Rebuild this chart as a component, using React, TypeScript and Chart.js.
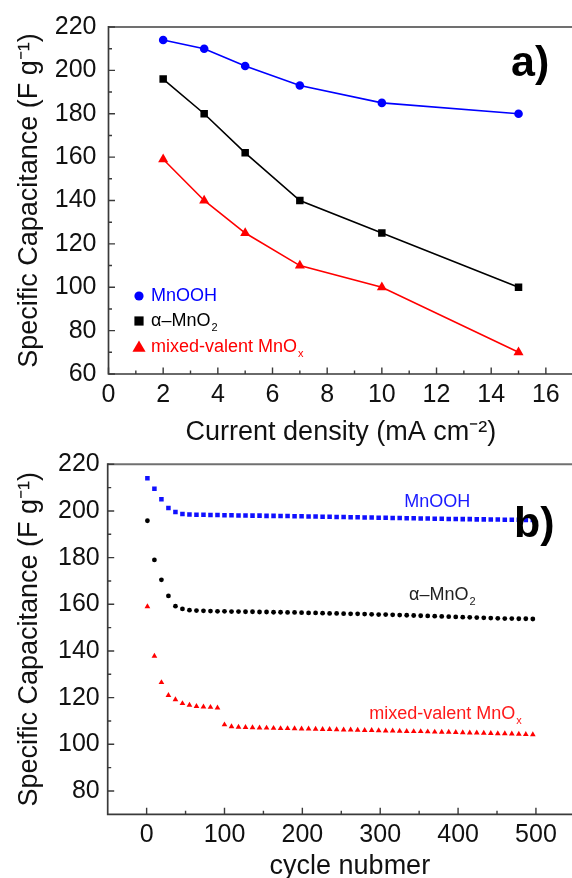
import { useEffect, useRef } from 'react';
import { Chart, registerables } from 'chart.js';

Chart.register(...registerables);

const FONT = "'Liberation Sans', Arial, Helvetica, sans-serif";

// ---------- Panel a) ----------
const currentDensity = [2, 3.5, 5, 7, 10, 15];
const capMnOOH = [214, 210, 202, 193, 185, 180];
const capAlphaMnO2 = [196, 180, 162, 140, 125, 100];
const capMixedMnOx = [159, 140, 125, 110, 100, 70];
const xTicksA = [0, 2, 4, 6, 8, 10, 12, 14, 16];
const xMinorA = [1, 3, 5, 7, 9, 11, 13, 15];
const yTicksA = [60, 80, 100, 120, 140, 160, 180, 200, 220];
const yMinorA = [70, 90, 110, 130, 150, 170, 190, 210];

// ---------- Panel b) ----------
const cycles = [1, 10, 19, 28, 37, 46, 55, 64, 73, 82, 91, 100, 109, 118, 127, 136, 145, 154, 163, 172, 181, 190, 199, 208, 217, 226, 235, 244, 253, 262, 271, 280, 289, 298, 307, 316, 325, 334, 343, 352, 361, 370, 379, 388, 397, 406, 415, 424, 433, 442, 451, 460, 469, 478, 487, 496];
const cycMnOOH = [214, 209.5, 205, 201.3, 199.6, 198.7, 198.5, 198.4, 198.4, 198.3, 198.3, 198.2,
  198.2, 198.1, 198.1, 198.0, 198.0, 197.9, 197.9, 197.8, 197.8, 197.7,
  197.7, 197.6, 197.6, 197.5, 197.5, 197.4, 197.4, 197.3, 197.3, 197.2,
  197.2, 197.1, 197.1, 197.0, 197.0, 196.9, 196.9, 196.8, 196.8, 196.7,
  196.7, 196.6, 196.6, 196.5, 196.5, 196.4, 196.4, 196.3, 196.3, 196.2,
  196.2, 196.2, 196.1, 196.1];
const cycAlphaMnO2 = [195.8, 179, 170.5, 163.6, 159.2, 158, 157.5, 157.3, 157.2, 157.1, 157.0, 157.0,
  156.9, 156.9, 156.8, 156.8, 156.7, 156.7, 156.6, 156.6, 156.5, 156.5,
  156.4, 156.3, 156.3, 156.2, 156.1, 156.1, 156.0, 155.9, 155.9, 155.8,
  155.7, 155.6, 155.6, 155.5, 155.4, 155.3, 155.2, 155.1, 155.0, 154.9,
  154.8, 154.7, 154.6, 154.5, 154.4, 154.3, 154.2, 154.1, 154.0, 153.9,
  153.9, 153.8, 153.8, 153.7];
const cycMixedMnOx = [159, 137.8, 126.5, 121, 119.2, 117.5, 116.8, 116.3, 116.1, 115.9, 115.6, 108.4,
  107.6, 107.4, 107.3, 107.2, 107.1, 107.0, 106.9, 106.8, 106.8, 106.7,
  106.6, 106.6, 106.5, 106.4, 106.4, 106.3, 106.2, 106.2, 106.1, 106.0,
  106.0, 105.9, 105.8, 105.8, 105.7, 105.6, 105.5, 105.5, 105.4, 105.3,
  105.2, 105.2, 105.1, 105.0, 104.9, 104.9, 104.8, 104.7, 104.6, 104.6,
  104.5, 104.4, 104.3, 104.2];
const xTicksB = [0, 100, 200, 300, 400, 500];
const xMinorB = [50, 150, 250, 350, 450];
const yTicksB = [80, 100, 120, 140, 160, 180, 200, 220];
const yMinorB = [90, 110, 130, 150, 170, 190, 210];

const seriesNames = ['MnOOH', 'α–MnO₂', 'mixed-valent MnOₓ'];
const seriesColors = ['#0000ff', '#000000', '#ff0000'];

const SUBS: Record<string, string> = { '₂': '2', 'ₓ': 'x' };

function drawRichLabel(ctx: CanvasRenderingContext2D, text: string, x: number, y: number, size: number, color: string) {
  let main = text;
  let sub = '';
  const last = text.charAt(text.length - 1);
  if (SUBS[last]) { main = text.slice(0, -1); sub = SUBS[last]; }
  ctx.save();
  ctx.fillStyle = color;
  ctx.textAlign = 'left';
  ctx.textBaseline = 'middle';
  ctx.font = `${size}px ${FONT}`;
  ctx.fillText(main, x, y);
  if (sub) {
    const w = ctx.measureText(main).width;
    ctx.font = `${Math.round(size * 0.62)}px ${FONT}`;
    ctx.fillText(sub, x + w + 1, y + size * 0.38);
  }
  ctx.restore();
}

function drawMarker(ctx: CanvasRenderingContext2D, style: string, x: number, y: number, r: number, color: string) {
  ctx.save();
  ctx.fillStyle = color;
  ctx.beginPath();
  if (style === 'circle') {
    ctx.arc(x, y, r, 0, Math.PI * 2);
  } else if (style === 'rect') {
    ctx.rect(x - r, y - r, 2 * r, 2 * r);
  } else {
    ctx.moveTo(x, y - r);
    ctx.lineTo(x + r * 0.866, y + r * 0.5);
    ctx.lineTo(x - r * 0.866, y + r * 0.5);
    ctx.closePath();
  }
  ctx.fill();
  ctx.restore();
}

function makeFrame(xMajor: number[], xMinor: number[], yMajor: number[], yMinor: number[]) {
  return {
    id: 'frame',
    afterDraw(chart: any) {
      const { ctx, chartArea: a, scales } = chart;
      const xs = scales.x;
      const ys = scales.y;
      ctx.save();
      ctx.strokeStyle = '#707070';
      ctx.lineWidth = 2;
      ctx.beginPath();
      ctx.moveTo(a.left, a.top);
      ctx.lineTo(chart.width, a.top);
      ctx.stroke();
      ctx.strokeStyle = '#3a3a3a';
      ctx.lineWidth = 1.7;
      ctx.beginPath();
      ctx.moveTo(a.left, a.top - 1);
      ctx.lineTo(a.left, a.bottom);
      ctx.lineTo(chart.width, a.bottom);
      ctx.stroke();
      ctx.lineWidth = 1.4;
      ctx.beginPath();
      const xt = (v: number, len: number) => {
        const px = xs.getPixelForValue(v);
        ctx.moveTo(px, a.bottom);
        ctx.lineTo(px, a.bottom - len);
      };
      const yt = (v: number, len: number) => {
        const py = ys.getPixelForValue(v);
        ctx.moveTo(a.left, py);
        ctx.lineTo(a.left + len, py);
      };
      xMajor.forEach((v) => xt(v, 6.5));
      xMinor.forEach((v) => xt(v, 3.5));
      yMajor.forEach((v) => yt(v, 6.5));
      yMinor.forEach((v) => yt(v, 3.5));
      ctx.stroke();
      ctx.restore();
    },
  };
}

const tickFont = { family: FONT, size: 25 };
const titleFont = { family: FONT, size: 27 };

export default function App() {
  const refA = useRef<HTMLCanvasElement>(null);
  const refB = useRef<HTMLCanvasElement>(null);

  useEffect(() => {
    document.body.style.margin = '0';
    Chart.defaults.font.family = FONT;

    const legendA = {
      id: 'legendA',
      afterDraw(chart: any) {
        const ctx = chart.ctx;
        const rows = [296, 321, 347];
        const styles = ['circle', 'rect', 'triangle'];
        const radii = [4.6, 4.6, 7.6];
        chart.data.datasets.forEach((ds: any, i: number) => {
          drawMarker(ctx, styles[i], 139, rows[i] + (i === 2 ? 1 : 0), radii[i], seriesColors[i]);
          drawRichLabel(ctx, ds.label, 151, rows[i], 18, seriesColors[i]);
        });
        ctx.save();
        ctx.fillStyle = '#000';
        ctx.font = `bold 43px ${FONT}`;
        ctx.textAlign = 'left';
        ctx.textBaseline = 'alphabetic';
        ctx.fillText('a)', 511, 76);
        ctx.restore();
      },
    };

    const labelsB = {
      id: 'labelsB',
      afterDraw(chart: any) {
        const ctx = chart.ctx;
        const xs = chart.scales.x;
        const ys = chart.scales.y;
        const spots = [
          { x: 331, y: 204, c: '#1a1aff' },
          { x: 337, y: 164, c: '#222222' },
          { x: 286, y: 113, c: '#ff1a1a' },
        ];
        chart.data.datasets.forEach((ds: any, i: number) => {
          const s = spots[i];
          drawRichLabel(ctx, ds.label, xs.getPixelForValue(s.x), ys.getPixelForValue(s.y), 18, s.c);
        });
        ctx.save();
        ctx.fillStyle = '#000';
        ctx.font = `bold 43px ${FONT}`;
        ctx.textAlign = 'left';
        ctx.textBaseline = 'alphabetic';
        ctx.fillText('b)', 514, 97);
        ctx.restore();
      },
    };

    const lineDs = (i: number, ys: number[], style: string, r: number) => ({
      label: seriesNames[i],
      data: currentDensity.map((x, k) => ({ x, y: ys[k] })),
      showLine: true,
      borderColor: seriesColors[i],
      backgroundColor: seriesColors[i],
      borderWidth: 1.6,
      pointStyle: style,
      pointRadius: r,
      pointBorderWidth: 0,
      pointBackgroundColor: seriesColors[i],
      pointBorderColor: seriesColors[i],
      tension: 0,
    });

    const chartA = new Chart(refA.current as HTMLCanvasElement, {
      type: 'scatter',
      data: {
        datasets: [
          lineDs(0, capMnOOH, 'circle', 4.3),
          lineDs(1, capAlphaMnO2, 'rect', 5.3),
          lineDs(2, capMixedMnOx, 'triangle', 5.8),
        ],
      },
      options: {
        responsive: false,
        animation: false,
        devicePixelRatio: 1,
        layout: { padding: { top: 25, left: 0, right: 0, bottom: 0 } },
        plugins: { legend: { display: false }, tooltip: { enabled: false } },
        scales: {
          x: {
            type: 'linear',
            min: 0,
            max: 17,
            grid: { display: false, drawTicks: false },
            border: { display: false },
            ticks: { font: tickFont, color: '#111', padding: 6, maxRotation: 0, autoSkip: false },
            afterBuildTicks: (s: any) => { s.ticks = xTicksA.map((value) => ({ value })); },
            afterFit: (s: any) => { s.height = 96; },
            title: { display: true, text: 'Current density (mA cm⁻²)', font: titleFont, color: '#111', padding: { top: 0, bottom: 21 } },
          },
          y: {
            type: 'linear',
            min: 60,
            max: 220,
            grid: { display: false, drawTicks: false },
            border: { display: false },
            ticks: { font: tickFont, color: '#111', padding: 12, autoSkip: false },
            afterBuildTicks: (s: any) => { s.ticks = yTicksA.map((value) => ({ value })); },
            afterFit: (s: any) => { s.width = 108.5; },
            title: { display: true, text: 'Specific Capacitance (F g⁻¹)', font: titleFont, color: '#111', padding: { top: 13.5, bottom: 0 } },
          },
        },
      },
      plugins: [makeFrame(xTicksA, xMinorA, yTicksA, yMinorA), legendA],
    } as any);

    const scatterDs = (i: number, ys: number[], style: string, r: number, color: string) => ({
      label: seriesNames[i],
      data: cycles.map((x, k) => ({ x, y: ys[k] })),
      showLine: false,
      pointStyle: style,
      pointRadius: r,
      pointBorderWidth: 0,
      pointBackgroundColor: color,
      pointBorderColor: color,
      backgroundColor: color,
      borderColor: color,
    });

    const chartB = new Chart(refB.current as HTMLCanvasElement, {
      type: 'scatter',
      data: {
        datasets: [
          scatterDs(0, cycMnOOH, 'rect', 3.2, '#1010ff'),
          scatterDs(1, cycAlphaMnO2, 'circle', 2.4, '#000000'),
          scatterDs(2, cycMixedMnOx, 'triangle', 3.3, '#ff0000'),
        ],
      },
      options: {
        responsive: false,
        animation: false,
        devicePixelRatio: 1,
        layout: { padding: { top: 24.3, left: 0, right: 0, bottom: 0 } },
        plugins: { legend: { display: false }, tooltip: { enabled: false } },
        scales: {
          x: {
            type: 'linear',
            min: -50,
            max: 572,
            grid: { display: false, drawTicks: false },
            border: { display: false },
            ticks: { font: tickFont, color: '#111', padding: 6, maxRotation: 0, autoSkip: false },
            afterBuildTicks: (s: any) => { s.ticks = xTicksB.map((value) => ({ value })); },
            afterFit: (s: any) => { s.height = 95.7; },
            title: { display: true, text: 'cycle nubmer', font: titleFont, color: '#111', padding: { top: 0, bottom: 27.5 } },
          },
          y: {
            type: 'linear',
            min: 70,
            max: 220,
            grid: { display: false, drawTicks: false },
            border: { display: false },
            ticks: { font: tickFont, color: '#111', padding: 8, autoSkip: false },
            afterBuildTicks: (s: any) => { s.ticks = yTicksB.map((value) => ({ value })); },
            afterFit: (s: any) => { s.width = 107.7; },
            title: { display: true, text: 'Specific Capacitance (F g⁻¹)', font: titleFont, color: '#111', padding: { top: 13.5, bottom: 0 } },
          },
        },
      },
      plugins: [makeFrame(xTicksB, xMinorB, yTicksB, yMinorB), labelsB],
    } as any);

    return () => {
      chartA.destroy();
      chartB.destroy();
    };
  }, []);

  return (
    <div style={{ position: 'relative', width: 572, height: 878, overflow: 'hidden', background: '#fff' }}>
      <canvas ref={refA} width={579} height={470} style={{ position: 'absolute', left: 0, top: 0 }} />
      <canvas ref={refB} width={596} height={470} style={{ position: 'absolute', left: 0, top: 440 }} />
    </div>
  );
}
